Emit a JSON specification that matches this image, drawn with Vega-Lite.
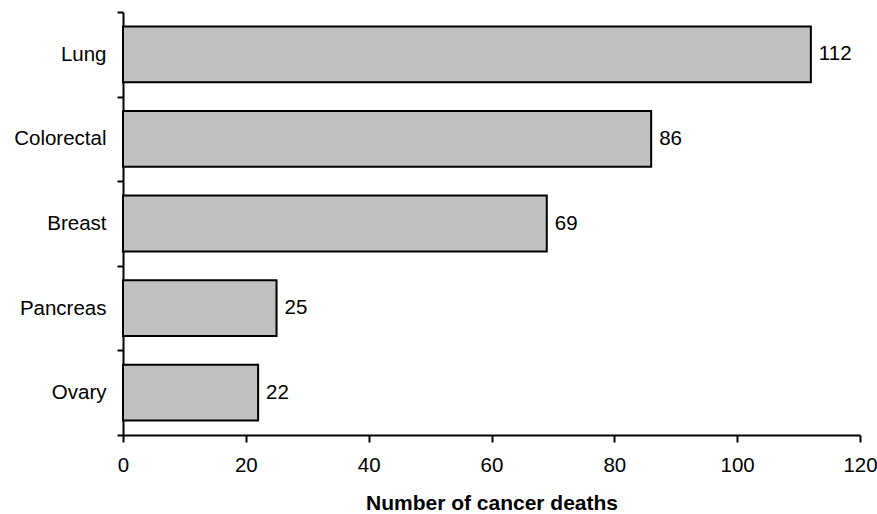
{
  "$schema": "https://vega.github.io/schema/vega-lite/v6.json",
  "width": 737,
  "height": 423,
  "autosize": {"type": "none"},
  "padding": {"left": 123, "top": 12, "right": 17, "bottom": 79},
  "background": "white",
  "config": {
    "view": {"stroke": null},
    "font": "Liberation Sans",
    "axis": {"grid": false, "domainColor": "black", "tickColor": "black", "labelColor": "black", "titleColor": "black", "domainWidth": 2, "tickWidth": 2, "labelFont": "Liberation Sans", "titleFont": "Liberation Sans"}
  },
  "data": {"values": [
    {"cancer": "Lung", "deaths": 112},
    {"cancer": "Colorectal", "deaths": 86},
    {"cancer": "Breast", "deaths": 69},
    {"cancer": "Pancreas", "deaths": 25},
    {"cancer": "Ovary", "deaths": 22}
  ]},
  "encoding": {
    "y": {"field": "cancer", "type": "nominal", "sort": null,
      "scale": {"paddingInner": 0, "paddingOuter": 0},
      "axis": {"title": null, "tickBand": "extent", "tickSize": 6, "labelPadding": 11, "labelFontSize": 20.5}},
    "x": {"field": "deaths", "type": "quantitative",
      "scale": {"domain": [0, 120], "nice": false},
      "axis": {"title": "Number of cancer deaths", "values": [0, 20, 40, 60, 80, 100, 120], "labelFlush": false, "tickSize": 7, "labelPadding": 13, "labelFontSize": 20.5, "titleFontSize": 21, "titleFontWeight": "bold", "titlePadding": 17}}
  },
  "layer": [
    {"mark": {"type": "bar", "height": {"band": 0.66}, "fill": "#C0C0C0", "stroke": "black", "strokeWidth": 2}},
    {"mark": {"type": "text", "align": "left", "dx": 8, "fontSize": 20.5, "color": "black"},
     "encoding": {"text": {"field": "deaths", "type": "quantitative"}}}
  ]
}
